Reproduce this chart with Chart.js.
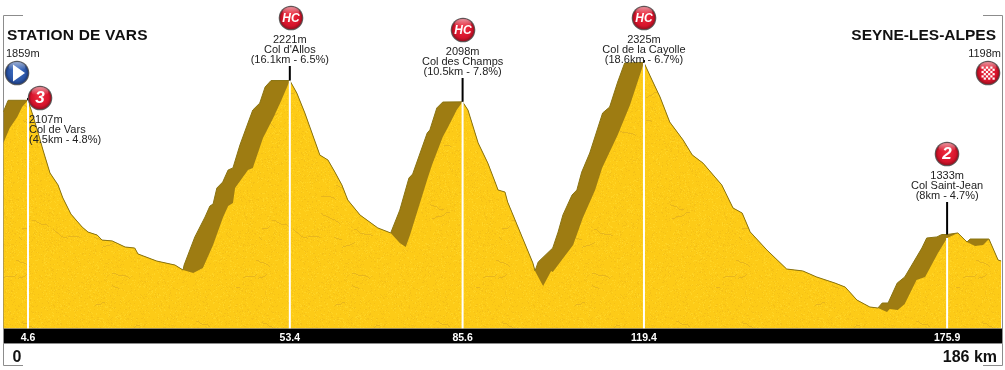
<!DOCTYPE html>
<html>
<head>
<meta charset="utf-8">
<title>Station de Vars - Seyne-les-Alpes</title>
<script src="https://cdn.jsdelivr.net/npm/chart.js@4/dist/chart.umd.min.js"></script>
<style>
  html, body { margin: 0; padding: 0; background: #fff; }
  canvas { display: block; }
</style>
</head>
<body>
<canvas id="profile" width="1005" height="370"></canvas>
<script>
// road profile, km and metres
const profileKm = [0, 1.2, 2.6, 3.5, 4.6, 5.5, 6.5, 7.4, 8.7, 10.2, 11.1, 12.6, 14.7, 15.8, 17.5, 18.4, 20.3, 22.7, 24.5, 25.1, 28.6, 32, 33.5, 35.4, 37.2, 39.1, 40.9, 41.9, 42.8, 43.2, 45.6, 46.5, 48.4, 50.3, 51.6, 53.4, 54.7, 56.2, 59, 60.5, 61.8, 63.1, 64.2, 66.5, 69.8, 72.2, 73.9, 75, 75.8, 79.1, 79.9, 81.9, 82.9, 84.5, 85.6, 86.6, 88.5, 90.3, 91.8, 92.2, 93.5, 94, 98.7, 99.1, 100.6, 102.1, 102.4, 106.2, 108, 110.3, 111.6, 114.5, 116.8, 119.4, 120.9, 122.4, 124.2, 126.7, 128.4, 130.4, 133.9, 136, 137.7, 139.2, 142.3, 146, 149, 151.6, 155, 156.9, 159.1, 161.5, 163, 164.7, 165.2, 166.7, 168, 170.2, 171.8, 174.2, 175.9, 177.9, 179.6, 181.1, 182.6, 183.7, 185.4, 186];
const profileAlt = [1859, 1947, 2011, 2068, 2107, 2022, 1918, 1820, 1688, 1619, 1544, 1451, 1376, 1347, 1330, 1301, 1296, 1261, 1255, 1221, 1180, 1157, 1128, 1111, 1140, 1273, 1428, 1497, 1515, 1601, 1705, 1717, 1890, 2005, 2091, 2221, 2149, 2034, 1791, 1763, 1693, 1619, 1532, 1445, 1371, 1342, 1284, 1261, 1330, 1659, 1734, 1895, 1953, 2051, 2098, 2051, 1861, 1745, 1624, 1590, 1578, 1520, 1169, 1123, 1036, 1123, 1117, 1273, 1428, 1590, 1717, 1907, 2080, 2325, 2224, 2126, 1982, 1878, 1792, 1745, 1619, 1486, 1457, 1348, 1244, 1134, 1123, 1088, 1053, 1030, 955, 915, 909, 886, 903, 898, 932, 1071, 1088, 1226, 1313, 1342, 1290, 1267, 1273, 1307, 1186, 1180];

// outer edge of the relief, the shaded band is what lies between this and the road
const reliefKm = [0, 0.9, 4.6, 5.5, 6.5, 7.4, 8.7, 10.2, 11.1, 12.6, 14.7, 15.8, 17.5, 18.4, 20.3, 22.7, 24.5, 25.1, 28.6, 32, 33.5, 33.7, 35.7, 37.6, 38.5, 39.1, 39.8, 40.9, 41.9, 42.8, 44.1, 45.6, 46.5, 47.8, 48.8, 49.9, 53.4, 54.7, 56.2, 59, 60.5, 61.8, 63.1, 64.2, 66.5, 69.8, 72.2, 73.9, 75.6, 76.3, 79, 79.5, 80.8, 81.9, 85.6, 86.6, 88.5, 90.3, 91.8, 92.2, 93.5, 94, 98.7, 99.1, 99.7, 102.4, 103.4, 104.3, 106, 106.9, 107.8, 109.3, 111.7, 113, 114.5, 115.8, 119.4, 120.9, 122.4, 124.2, 126.7, 128.4, 130.4, 133.9, 136, 137.7, 139.2, 142.3, 146, 149, 151.6, 155, 156.9, 159.1, 161.5, 163, 163.8, 164.9, 166.6, 168, 171.2, 172.1, 174, 174.9, 175.9, 177.9, 179.6, 180.2, 183.7, 185.4, 186];
const reliefAlt = [2040, 2107, 2107, 2022, 1918, 1820, 1688, 1619, 1544, 1451, 1376, 1347, 1330, 1301, 1296, 1261, 1255, 1221, 1180, 1157, 1128, 1157, 1319, 1434, 1497, 1509, 1601, 1636, 1705, 1717, 1849, 1976, 2051, 2091, 2184, 2221, 2221, 2149, 2034, 1791, 1763, 1693, 1619, 1532, 1445, 1371, 1342, 1474, 1659, 1682, 1918, 1936, 2063, 2097, 2098, 2051, 1861, 1745, 1624, 1590, 1578, 1520, 1169, 1123, 1175, 1255, 1347, 1446, 1561, 1590, 1693, 1803, 2034, 2068, 2212, 2322, 2325, 2224, 2126, 1982, 1878, 1792, 1745, 1619, 1486, 1457, 1348, 1244, 1134, 1123, 1088, 1053, 1030, 955, 915, 909, 938, 938, 1053, 1088, 1255, 1313, 1319, 1333, 1333, 1342, 1290, 1307, 1307, 1186, 1180];

// climbs
const climbKm = [4.6, 53.4, 85.6, 119.4, 175.9];
const climbAlt = [2107, 2221, 2098, 2325, 1333];
const climbFootAlt = [2107, 2221, 2098, 2325, 1313];
const climbStickAlt = [2120, 2305, 2236, 2340, 1520];
const climbCat = ['3', 'HC', 'HC', 'HC', '2'];
const climbName = ['Col de Vars', "Col d'Allos", 'Col des Champs', 'Col de la Cayolle', 'Col Saint-Jean'];
const climbDetail = ['(4.5km - 4.8%)', '(16.1km - 6.5%)', '(10.5km - 7.8%)', '(18.6km - 6.7%)', '(8km - 4.7%)'];

const startName = 'STATION DE VARS';
const finishName = 'SEYNE-LES-ALPES';
const startAlt = '1859m';
const finishAlt = '1198m';
const startLabel = '0';
const finishLabel = '186 km';

const FONT = '"Liberation Sans", Arial, sans-serif';
const BASE_ALT = 791;

// label block layout, px: badge centre, first text line centre
const badgeLayout = [[40, 98], [291, 18], [463, 30], [644, 18], [947, 154]];
const textTop = [120, 40, 52, 40, 176];

function makeTexture() {
  const tile = document.createElement('canvas');
  tile.width = 240; tile.height = 240;
  const c = tile.getContext('2d');
  c.fillStyle = '#fdcb17';
  c.fillRect(0, 0, 240, 240);
  let s = 12345;
  const next = () => { s = (s * 1103515245 + 12345) & 0x7fffffff; return s / 0x7fffffff; };
  for (let i = 0; i < 11000; i++) {
    c.fillStyle = next() > 0.5 ? '#f5c117' : '#ffd424';
    c.fillRect(Math.floor(next() * 240), Math.floor(next() * 240), 1, 1);
  }
  // short rough cracks
  c.fillStyle = '#e8b61d';
  for (let i = 0; i < 34; i++) {
    let x = next() * 240, y = next() * 240;
    const dir = next() > 0.5 ? 1 : -1;
    const len = 5 + next() * 14;
    for (let k = 0; k < len; k++) {
      c.fillRect(Math.floor(x), Math.floor(y), 1, 1);
      x += 1;
      if (next() > 0.6) y += dir;
    }
  }
  return c.createPattern(tile, 'repeat');
}

function drawBadge(ctx, x, y, colors) {
  ctx.save();
  ctx.beginPath();
  ctx.arc(x, y, 12.3, 0, Math.PI * 2);
  ctx.fillStyle = '#5c5c5c';
  ctx.fill();
  const g = ctx.createRadialGradient(x, y - 3, 2, x, y, 11.5);
  g.addColorStop(0, colors[0]);
  g.addColorStop(0.72, colors[1]);
  g.addColorStop(1, colors[2]);
  ctx.beginPath();
  ctx.arc(x, y, 11.3, 0, Math.PI * 2);
  ctx.fillStyle = g;
  ctx.fill();
  // sheen on the upper rim
  const sheen = ctx.createLinearGradient(0, y - 11, 0, y - 3);
  sheen.addColorStop(0, 'rgba(255,255,255,0.55)');
  sheen.addColorStop(1, 'rgba(255,255,255,0)');
  ctx.beginPath();
  ctx.ellipse(x, y - 6, 8.5, 5, 0, 0, Math.PI * 2);
  ctx.fillStyle = sheen;
  ctx.fill();
  ctx.restore();
}

const RED = ['#ec2a3c', '#d5132b', '#8f0f1d'];
const BLUE = ['#3f6fc4', '#2a54a5', '#1b3672'];

const profileDecor = {
  id: 'profileDecor',
  // frame and black km strip go under the tick labels
  beforeDraw(chart) {
    const { ctx, chartArea: a } = chart;
    ctx.save();
    ctx.fillStyle = '#000';
    ctx.fillRect(4, a.bottom, 998, 14.5);
    ctx.strokeStyle = '#8c8c8c';
    ctx.lineWidth = 1;
    ctx.beginPath();
    ctx.moveTo(23, 15.5); ctx.lineTo(3.5, 15.5); ctx.lineTo(3.5, 343.5); ctx.lineTo(1002.5, 343.5);
    ctx.lineTo(1002.5, 15.5); ctx.lineTo(983, 15.5);
    ctx.moveTo(3.5, 343.5); ctx.lineTo(3.5, 365.5); ctx.lineTo(23, 365.5);
    ctx.moveTo(1002.5, 343.5); ctx.lineTo(1002.5, 365.5); ctx.lineTo(983, 365.5);
    ctx.stroke();
    ctx.restore();
  },
  afterDatasetsDraw(chart) {
    const { ctx } = chart;
    const xs = chart.scales.x;
    ctx.save();
    ctx.textBaseline = 'middle';

    // stage ends
    ctx.fillStyle = '#111';
    ctx.font = 'bold 15.5px ' + FONT;
    ctx.textAlign = 'left';
    ctx.letterSpacing = '0.2px';
    ctx.fillText(startName, 7, 35.5);
    ctx.letterSpacing = '0px';
    ctx.textAlign = 'right';
    ctx.fillText(finishName, 996, 35.5);

    ctx.fillStyle = '#222';
    ctx.font = '11px ' + FONT;
    ctx.textAlign = 'left';
    ctx.fillText(startAlt, 6, 54);
    ctx.textAlign = 'right';
    ctx.fillText(finishAlt, 1001, 54);

    ctx.fillStyle = '#111';
    ctx.font = 'bold 16px ' + FONT;
    ctx.textAlign = 'center';
    ctx.fillText(startLabel, 17, 357.5);
    ctx.textAlign = 'right';
    ctx.fillText(finishLabel, 997, 357.5);

    // climb captions
    climbKm.forEach((km, i) => {
      const cx = xs.getPixelForValue(km);
      const top = textTop[i];
      ctx.fillStyle = '#222';
      ctx.font = '11px ' + FONT;
      ctx.textAlign = i === 0 ? 'left' : 'center';
      const tx = i === 0 ? cx + 1 : cx;
      ctx.fillText(climbAlt[i] + 'm', tx, top);
      ctx.fillText(climbName[i], tx, top + 10);
      ctx.fillText(climbDetail[i], tx, top + 20);
    });

    // start and finish badges
    drawBadge(ctx, 17, 73, BLUE);
    ctx.fillStyle = '#fff';
    ctx.beginPath();
    ctx.moveTo(13, 64.5); ctx.lineTo(25, 73); ctx.lineTo(13, 81.5);
    ctx.closePath();
    ctx.fill();

    drawBadge(ctx, 988, 73, RED);
    ctx.fillStyle = '#fff';
    for (let r = 0; r < 6; r++) {
      for (let c = 0; c < 6; c++) {
        if ((r + c) % 2 === 0) ctx.fillRect(981.5 + c * 2.2, 66.5 + r * 2.2, 2.2, 2.2);
      }
    }

    // category badges
    climbCat.forEach((cat, i) => {
      const [bx, by] = badgeLayout[i];
      drawBadge(ctx, bx, by, RED);
      ctx.fillStyle = '#fff';
      ctx.font = cat === 'HC' ? 'italic bold 12px ' + FONT : 'italic bold 17px ' + FONT;
      ctx.textAlign = 'center';
      ctx.fillText(cat, bx, by + 0.5);
    });
    ctx.restore();
  }
};

const toPoints = (xs, ys) => xs.map((x, i) => ({ x, y: ys[i] }));

const footLines = climbKm.map((km, i) => ({
  data: [{ x: km, y: climbFootAlt[i] }, { x: km, y: BASE_ALT }],
  borderColor: '#fff', borderWidth: 2, pointRadius: 0, fill: false, order: 2
}));
const stickLines = climbKm.map((km, i) => ({
  data: [{ x: km, y: climbStickAlt[i] }, { x: km, y: climbAlt[i] }],
  borderColor: '#000', borderWidth: 2, pointRadius: 0, fill: false, order: 1
}));

new Chart(document.getElementById('profile'), {
  type: 'line',
  data: {
    datasets: [
      { label: 'relief', data: toPoints(reliefKm, reliefAlt), borderWidth: 0, backgroundColor: '#9e7c12', pointRadius: 0, fill: 'start', order: 5 },
      { label: 'road', data: toPoints(profileKm, profileAlt), borderWidth: 0, backgroundColor: makeTexture(), pointRadius: 0, fill: 'start', order: 4 },
      { label: 'edge', data: toPoints(reliefKm, reliefAlt), borderWidth: 1, borderColor: '#8a7413', pointRadius: 0, fill: false, order: 3 },
      ...footLines,
      ...stickLines
    ]
  },
  options: {
    responsive: false,
    animation: false,
    events: [],
    layout: { padding: { left: 3.3, right: 3.7, top: 15, bottom: 0 } },
    plugins: { legend: { display: false }, tooltip: { enabled: false } },
    scales: {
      x: {
        type: 'linear', min: 0, max: 186,
        grid: { display: false, drawTicks: false },
        border: { display: false },
        afterBuildTicks: axis => { axis.ticks = climbKm.map(value => ({ value })); },
        afterFit: axis => { axis.height = 41.5; },
        ticks: {
          autoSkip: false, maxRotation: 0, padding: 3, color: '#fff',
          font: { family: FONT, size: 10.5, weight: 'bold' },
          callback: v => v.toFixed(1)
        }
      },
      y: { type: 'linear', display: false, min: BASE_ALT, max: 2599 }
    }
  },
  plugins: [profileDecor]
});
</script>
</body>
</html>
